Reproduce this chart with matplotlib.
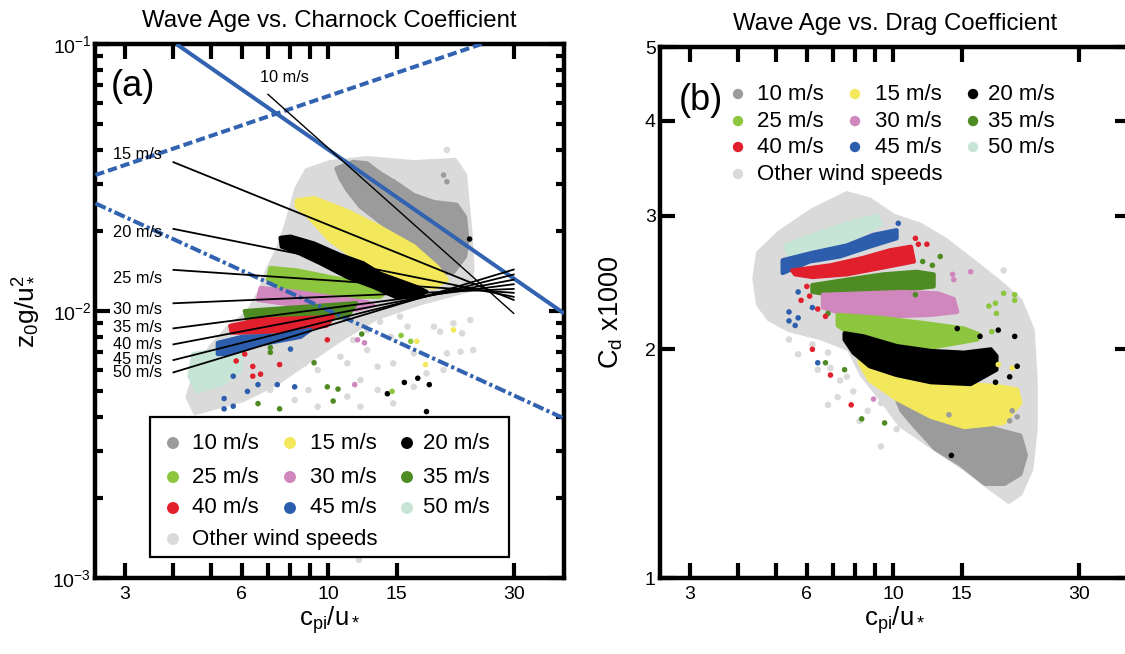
import matplotlib
matplotlib.use("Agg")
import matplotlib.pyplot as plt
from matplotlib.patches import Rectangle
from matplotlib.ticker import FixedLocator, FixedFormatter, NullLocator, NullFormatter, LogLocator

plt.rcParams["font.family"] = ["Liberation Sans", "DejaVu Sans"]
plt.rcParams["mathtext.fontset"] = "custom"
plt.rcParams["mathtext.rm"] = "Liberation Sans"
plt.rcParams["mathtext.it"] = "Liberation Sans"
plt.rcParams["mathtext.bf"] = "Liberation Sans:bold"

# ---------------------------------------------------------------- data
SPEEDS = [10, 15, 20, 25, 30, 35, 40, 45, 50]
SPEED_LABELS = ["10 m/s", "15 m/s", "20 m/s", "25 m/s", "30 m/s",
                "35 m/s", "40 m/s", "45 m/s", "50 m/s"]
OTHER_LABEL = "Other wind speeds"

X_TICKS = [3, 4, 5, 6, 7, 8, 9, 10, 15, 30]
X_TICK_LABELS = ["3", "", "", "6", "", "", "", "10", "15", "30"]
XLIM = (2.52, 40.4)
A_YLIM = (1e-3, 1e-1)
A_YTICK_LABELS = [r"$\mathregular{10^{-3}}$", r"$\mathregular{10^{-2}}$", r"$\mathregular{10^{-1}}$"]
B_YLIM = (1, 5)
B_YTICKS = [1, 2, 3, 4, 5]
B_YTICK_LABELS = ["1", "2", "3", "4", "5"]

# (a) Charnock coefficient: outlines of the dense point clouds
A_OTHER_X = [8.8, 10.1, 12.6, 16.6, 21.2, 22.5, 22.8, 23.2, 23.5, 23.2, 17.3, 13.3, 10.9, 9.0,
             7.4, 6.05, 4.55, 4.35, 4.55, 4.98, 5.61, 6.2, 6.7, 7.0, 7.4, 7.8, 8.3]
A_OTHER_Y = [0.0337, 0.0361, 0.0374, 0.0361, 0.0368, 0.0323, 0.0260, 0.0201, 0.0146, 0.0120,
             0.0107, 0.0094, 0.0079, 0.00655, 0.00537, 0.00464, 0.00415, 0.00476, 0.00586,
             0.00733, 0.00886, 0.00983, 0.0120, 0.0144, 0.0169, 0.0210, 0.0289]
A10_X = [10.5, 11.6, 12.6, 13.6, 15.0, 16.6, 18.7, 21.4, 22.5, 22.8, 22.5, 21.0, 19.4, 17.9,
         16.6, 15.3, 14.2, 13.1, 12.1, 11.2, 10.75]
A10_Y = [0.0342, 0.0362, 0.0357, 0.0328, 0.0301, 0.0272, 0.0256, 0.0250, 0.0225, 0.0184,
         0.0160, 0.0140, 0.0138, 0.0146, 0.0164, 0.0184, 0.0205, 0.0225, 0.0246, 0.0284, 0.0314]
A15_X = [8.3, 9.2, 11.2, 13.6, 16.6, 19.1, 20.2, 18.7, 15.0, 12.3, 10.1, 8.9, 8.3]
A15_Y = [0.0260, 0.0265, 0.0237, 0.0206, 0.0175, 0.0146, 0.0131, 0.0122, 0.0131, 0.0151,
         0.0184, 0.0226, 0.0246]
A20_X = [7.54, 8.0, 9.2, 10.75, 12.3, 13.6, 15.0, 16.9, 17.9, 16.6, 14.9, 13.1, 11.2, 9.55, 8.4, 7.6]
A20_Y = [0.0188, 0.0190, 0.0179, 0.0162, 0.0151, 0.0138, 0.0131, 0.0123, 0.0118, 0.0113,
         0.0113, 0.0123, 0.0134, 0.0151, 0.0165, 0.0174]
A25_X = [7.1, 8.3, 10.1, 12.3, 14.2, 13.6, 11.2, 9.2, 7.54, 7.0]
A25_Y = [0.0145, 0.0142, 0.0134, 0.0127, 0.0120, 0.0113, 0.0113, 0.0118, 0.0123, 0.0131]
A30_X = [6.7, 8.3, 10.1, 12.6, 13.1, 11.8, 9.2, 7.54, 6.6]
A30_Y = [0.0122, 0.0118, 0.0113, 0.0108, 0.0105, 0.0101, 0.0104, 0.0107, 0.0110]
A35_X = [6.1, 8.1, 11.8, 11.2, 8.1, 6.2]
A35_Y = [0.0100, 0.0103, 0.0107, 0.0095, 0.0091, 0.0093]
A40_X = [5.6, 6.7, 8.5, 10.3, 9.9, 8.1, 6.7, 5.65]
A40_Y = [0.0088, 0.0093, 0.0094, 0.0095, 0.0088, 0.0085, 0.0083, 0.0083]
A45_X = [5.2, 6.0, 7.35, 9.0, 8.5, 6.7, 5.5, 5.2]
A45_Y = [0.0076, 0.0080, 0.0081, 0.0085, 0.0080, 0.0075, 0.0069, 0.0069]
A50_X = [4.5, 5.1, 6.0, 5.95, 5.3, 4.6, 4.4]
A50_Y = [0.0069, 0.0071, 0.0071, 0.0060, 0.0053, 0.0050, 0.0057]

# (a) isolated points
A_DOTS_OTHER_X = [13.6, 15.3, 14.5, 16.0, 18.7, 19.4, 21.0, 22.1, 23.2, 20.2, 21.9, 23.6, 12.6,
                  13.4, 14.7, 16.6, 17.9, 19.8, 16.6, 14.7, 13.4, 12.1, 11.2, 10.75, 11.6, 12.6,
                  9.4, 8.7, 8.9, 8.2, 7.1, 9.4, 12.1, 11.2, 20.2, 20.5, 19.9, 12.0]
A_DOTS_OTHER_Y = [0.00912, 0.00953, 0.00801, 0.00874, 0.00874, 0.00837, 0.0090, 0.00825,
                  0.00925, 0.00694, 0.00704, 0.00714, 0.00714, 0.00619, 0.00637, 0.00694,
                  0.00584, 0.00601, 0.0052, 0.00451, 0.00506, 0.00551, 0.00637, 0.00674,
                  0.00779, 0.00849, 0.00601, 0.00637, 0.00506, 0.00464, 0.00506, 0.00438,
                  0.00438, 0.00478, 0.0401, 0.0323, 0.0303, 0.00117]
A_DOTS_10_X = [19.8, 20.2, 14.7]
A_DOTS_10_Y = [0.0323, 0.0305, 0.0305]
A_DOTS_15_X = [21.0, 16.9, 17.8]
A_DOTS_15_Y = [0.0085, 0.0077, 0.0063]
A_DOTS_20_X = [14.2, 15.7, 17.0, 18.2, 17.9, 23.1]
A_DOTS_20_Y = [0.0049, 0.0054, 0.0056, 0.0053, 0.0042, 0.0186]
A_DOTS_25_X = [15.4, 16.3, 14.6]
A_DOTS_25_Y = [0.0081, 0.0077, 0.0050]
A_DOTS_30_X = [11.9, 12.4, 11.7]
A_DOTS_30_Y = [0.0078, 0.0076, 0.0053]
A_DOTS_35_X = [9.2, 9.95, 10.6, 10.3, 6.6, 7.5, 12.2, 7.1, 7.1]
A_DOTS_35_Y = [0.0064, 0.0052, 0.0051, 0.0046, 0.0045, 0.0043, 0.0082, 0.0073, 0.0070]
A_DOTS_40_X = [9.95, 5.8, 6.4, 6.4, 6.7, 7.5, 6.1]
A_DOTS_40_Y = [0.0078, 0.0065, 0.0062, 0.0057, 0.0058, 0.0063, 0.0069]
A_DOTS_45_X = [8.0, 5.7, 6.6, 7.4, 8.2, 6.2, 5.4, 5.7, 5.4]
A_DOTS_45_Y = [0.0072, 0.0057, 0.0053, 0.0053, 0.0052, 0.0050, 0.0047, 0.0044, 0.0043]

# (a) per-speed fitted lines, from x0 to x1
FIT_X0 = [7.0, 4.0, 4.0, 4.0, 4.0, 4.0, 4.0, 4.0, 4.0]
FIT_X1 = [30.0, 30.0, 30.0, 30.0, 30.0, 30.0, 30.0, 30.0, 30.0]
FIT_Y0 = [0.0648, 0.0361, 0.0203, 0.01426, 0.01069, 0.00861, 0.0075, 0.00655, 0.00589]
FIT_Y1 = [0.0098, 0.0110, 0.0113, 0.0117, 0.0121, 0.0126, 0.0131, 0.0137, 0.0143]
FIT_LABEL_X = [6.66, 2.8, 2.8, 2.8, 2.8, 2.8, 2.8, 2.8, 2.8]
FIT_LABEL_Y = [0.0752, 0.0384, 0.0196, 0.01318, 0.01009, 0.00864, 0.00746, 0.00661, 0.00586]

# (a) reference relations
REF_SOLID_X = [4.07, 40.4]
REF_SOLID_Y = [0.1, 0.0098]
REF_DASHED_X = [2.52, 24.8]
REF_DASHED_Y = [0.0323, 0.1]
REF_DASHDOT_X = [2.52, 40.4]
REF_DASHDOT_Y = [0.0253, 0.00396]

# (b) drag coefficient: outlines of the dense point clouds
B_OTHER_X = [7.6, 8.7, 10.0, 11.7, 13.6, 16.1, 18.8, 21.2, 22.8, 23.2, 23.2, 22.6, 21.2, 19.8,
             17.8, 15.3, 12.5, 10.4, 9.3, 8.3, 7.7, 6.5, 5.4, 4.8, 4.5, 4.4, 4.5, 5.1, 6.2]
B_OTHER_Y = [3.21, 3.15, 3.0, 2.92, 2.79, 2.61, 2.45, 2.32, 2.12, 1.82, 1.57, 1.39, 1.29, 1.26,
             1.31, 1.39, 1.49, 1.59, 1.72, 1.85, 2.0, 2.07, 2.12, 2.19, 2.29, 2.48, 2.68, 2.85, 3.05]
B50_X = [5.3, 6.5, 7.8, 9.1, 9.3, 7.8, 6.5, 5.4]
B50_Y = [2.74, 2.85, 2.94, 3.0, 2.92, 2.79, 2.70, 2.64]
B45_X = [5.2, 6.2, 7.6, 8.9, 10.2, 10.2, 8.7, 7.3, 6.1, 5.2]
B45_Y = [2.62, 2.68, 2.74, 2.83, 2.87, 2.80, 2.73, 2.65, 2.61, 2.52]
B40_X = [5.5, 6.9, 8.4, 9.8, 11.1, 11.3, 9.3, 7.6, 6.2, 5.6]
B40_Y = [2.54, 2.58, 2.64, 2.70, 2.73, 2.61, 2.56, 2.51, 2.49, 2.51]
B35_X = [6.2, 7.6, 9.4, 11.5, 12.7, 12.7, 10.2, 8.4, 6.9, 6.2]
B35_Y = [2.43, 2.47, 2.51, 2.53, 2.51, 2.42, 2.39, 2.37, 2.36, 2.38]
B30_X = [6.6, 8.4, 10.6, 13.0, 14.3, 14.6, 12.5, 9.8, 7.6, 6.6]
B30_Y = [2.36, 2.37, 2.38, 2.37, 2.33, 2.24, 2.22, 2.21, 2.22, 2.27]
B25_X = [7.2, 9.3, 12.5, 15.2, 16.7, 16.4, 12.5, 9.3, 7.8, 7.2]
B25_Y = [2.22, 2.20, 2.16, 2.13, 2.09, 2.06, 2.01, 2.03, 2.09, 2.15]
B20_X = [7.5, 8.4, 10.2, 12.5, 15.2, 17.8, 18.4, 18.4, 15.8, 12.5, 10.2, 8.7, 7.9, 7.5]
B20_Y = [2.10, 2.08, 2.02, 1.99, 1.98, 2.0, 1.96, 1.88, 1.80, 1.81, 1.85, 1.90, 1.98, 2.06]
B15_X = [8.2, 10.2, 12.5, 15.2, 18.4, 20.8, 21.2, 19.2, 15.2, 12.5, 10.2, 8.7, 8.2]
B15_Y = [1.96, 1.88, 1.82, 1.80, 1.79, 1.77, 1.70, 1.60, 1.58, 1.63, 1.72, 1.82, 1.92]
B10_X = [10.2, 12.5, 15.2, 18.4, 21.2, 21.9, 21.2, 19.3, 17.2, 14.9, 12.8, 11.4, 10.5]
B10_Y = [1.72, 1.68, 1.61, 1.57, 1.54, 1.45, 1.37, 1.33, 1.33, 1.41, 1.48, 1.58, 1.66]

# (b) isolated points
B_DOTS_OTHER_X = [5.4, 6.0, 5.7, 6.2, 6.8, 6.9, 7.3, 7.2, 6.8, 7.9, 8.6, 9.3, 10.1, 10.2, 9.3,
                  8.2, 7.6, 6.4, 13.2, 15.2, 19.2, 20.8, 20.0, 17.8]
B_DOTS_OTHER_Y = [2.06, 2.10, 1.97, 2.03, 1.98, 1.89, 1.82, 1.73, 1.69, 1.76, 1.66, 1.70, 1.64,
                  1.57, 1.49, 1.61, 1.84, 1.88, 2.79, 2.62, 2.54, 2.28, 2.19, 2.19]
B_DOTS_10_X = [13.9, 20.2, 20.8, 19.9]
B_DOTS_10_Y = [1.64, 1.66, 1.63, 1.61]
B_DOTS_15_X = [18.6, 20.2]
B_DOTS_15_Y = [1.91, 1.89]
B_DOTS_20_X = [14.6, 16.7, 18.6, 20.5, 20.8, 19.9, 18.3, 14.1]
B_DOTS_20_Y = [2.13, 2.08, 2.12, 2.08, 1.90, 1.84, 1.81, 1.45]
B_DOTS_25_X = [19.2, 20.5, 20.5, 17.6, 18.3, 18.4, 17.9]
B_DOTS_25_Y = [2.37, 2.36, 2.32, 2.28, 2.30, 2.23, 2.11]
B_DOTS_30_X = [15.8, 14.2, 14.3, 8.9]
B_DOTS_30_Y = [2.53, 2.51, 2.47, 1.72]
B_DOTS_35_X = [11.9, 13.2, 12.6, 11.4, 6.8, 6.7, 7.5, 8.3, 9.5]
B_DOTS_35_Y = [2.61, 2.65, 2.58, 2.36, 2.23, 1.92, 1.88, 1.62, 1.60]
B_DOTS_40_X = [11.4, 11.6, 12.2, 6.0, 6.1, 5.8, 6.4, 6.7, 6.2, 6.9, 7.8]
B_DOTS_40_Y = [2.80, 2.75, 2.75, 2.42, 2.35, 2.32, 2.26, 2.21, 2.0, 1.85, 1.69]
B_DOTS_45_X = [10.3, 5.7, 5.4, 5.7, 5.6, 6.2, 5.4, 6.4]
B_DOTS_45_Y = [2.93, 2.38, 2.24, 2.20, 2.15, 2.27, 2.18, 1.92]

# ---------------------------------------------------------------- style
COLORS = {10: "#9b9b9b", 15: "#f3e85c", 20: "#000000", 25: "#8cc63e", 30: "#cf87bd",
          35: "#4e8b22", 40: "#e11f2d", 45: "#2d5eae", 50: "#c7e5d6", "other": "#dadada"}
BLUE = "#3263b0"
TICK_FS = 14
LABEL_FS = 19
TITLE_FS = 17.3
LEGEND_FS = 16


def style_axes(ax):
    ax.set_xscale("log")
    ax.set_xlim(*XLIM)
    ax.xaxis.set_major_locator(FixedLocator(X_TICKS))
    ax.xaxis.set_major_formatter(FixedFormatter(X_TICK_LABELS))
    ax.xaxis.set_minor_locator(NullLocator())
    ax.tick_params(which="major", direction="in", length=10.5, width=3, top=True, right=True,
                   labelsize=TICK_FS)
    ax.tick_params(which="minor", direction="in", length=6, width=3, top=True, right=True)
    ax.tick_params(axis="x", which="both", pad=6)
    ax.tick_params(axis="y", which="both", pad=3)
    for sp in ax.spines.values():
        sp.set_linewidth(3.2)
    ax.set_xlabel(r"$\mathregular{c_{pi}/u_*}$", fontsize=LABEL_FS - 0.5, labelpad=1)


def cloud(ax, xs, ys, color, z):
    ax.fill(xs, ys, facecolor=color, edgecolor=color, lw=3, joinstyle="round", zorder=z)


def dots(ax, xs, ys, color, z, s=16):
    ax.scatter(xs, ys, s=s, color=color, edgecolors="none", zorder=z)


def legend_entries(ax, marker_x, text_x, rows_y, msize):
    grid = [[10, 15, 20], [25, 30, 35], [40, 45, 50]]
    for r, row in enumerate(grid):
        for c, spd in enumerate(row):
            ax.scatter([marker_x[c]], [rows_y[r]], s=msize, color=COLORS[spd],
                       edgecolors="none", transform=ax.transAxes, zorder=8, clip_on=False)
            ax.text(text_x[c], rows_y[r], SPEED_LABELS[SPEEDS.index(spd)],
                    transform=ax.transAxes, fontsize=LEGEND_FS, va="center", ha="left", zorder=8)
    ax.scatter([marker_x[0]], [rows_y[3]], s=msize, color=COLORS["other"], edgecolors="none",
               transform=ax.transAxes, zorder=8, clip_on=False)
    ax.text(text_x[0], rows_y[3], OTHER_LABEL, transform=ax.transAxes, fontsize=LEGEND_FS,
            va="center", ha="left", zorder=8)


fig = plt.figure(figsize=(11.25, 6.54), dpi=100)
ax_a = fig.add_axes([0.0848, 0.1162, 0.4165, 0.8165])
ax_b = fig.add_axes([0.5867, 0.1162, 0.4173, 0.8119])

# ---------------------------------------------------------------- panel (a)
ax = ax_a
style_axes(ax)
ax.set_yscale("log")
ax.set_ylim(*A_YLIM)
ax.yaxis.set_major_locator(FixedLocator([1e-3, 1e-2, 1e-1]))
ax.yaxis.set_major_formatter(FixedFormatter(A_YTICK_LABELS))
ax.yaxis.set_minor_locator(LogLocator(base=10, subs=[2, 3, 4, 5, 6, 7, 8, 9]))
ax.yaxis.set_minor_formatter(NullFormatter())
ax.set_ylabel(r"$\mathregular{z_0g/u_*^2}$", fontsize=LABEL_FS, labelpad=8)
ax.set_title("Wave Age vs. Charnock Coefficient", fontsize=TITLE_FS, pad=12)

cloud(ax, A_OTHER_X, A_OTHER_Y, COLORS["other"], 1)
dots(ax, A_DOTS_OTHER_X, A_DOTS_OTHER_Y, COLORS["other"], 1.5, s=22)
a_bands = [(50, A50_X, A50_Y), (10, A10_X, A10_Y), (15, A15_X, A15_Y), (25, A25_X, A25_Y),
           (30, A30_X, A30_Y), (35, A35_X, A35_Y), (40, A40_X, A40_Y), (45, A45_X, A45_Y),
           (20, A20_X, A20_Y)]
for i, (spd, xs, ys) in enumerate(a_bands):
    cloud(ax, xs, ys, COLORS[spd], 2 + 0.1 * i)
a_dots = [(10, A_DOTS_10_X, A_DOTS_10_Y), (15, A_DOTS_15_X, A_DOTS_15_Y),
          (20, A_DOTS_20_X, A_DOTS_20_Y), (25, A_DOTS_25_X, A_DOTS_25_Y),
          (30, A_DOTS_30_X, A_DOTS_30_Y), (35, A_DOTS_35_X, A_DOTS_35_Y),
          (40, A_DOTS_40_X, A_DOTS_40_Y), (45, A_DOTS_45_X, A_DOTS_45_Y)]
for spd, xs, ys in a_dots:
    dots(ax, xs, ys, COLORS[spd], 3)

ax.plot(REF_SOLID_X, REF_SOLID_Y, color=BLUE, lw=2.9, zorder=4, solid_capstyle="butt")
ax.plot(REF_DASHED_X, REF_DASHED_Y, color=BLUE, lw=2.9, zorder=4, dashes=(2.3, 1.0))
ax.plot(REF_DASHDOT_X, REF_DASHDOT_Y, color=BLUE, lw=2.9, zorder=4,
        dashes=(2.8, 0.8, 0.8, 0.8))
for k in range(len(SPEEDS)):
    ax.plot([FIT_X0[k], FIT_X1[k]], [FIT_Y0[k], FIT_Y1[k]], color="black",
            lw=1.0 if k == 0 else 1.3, zorder=4.5)
    ax.text(FIT_LABEL_X[k], FIT_LABEL_Y[k], SPEED_LABELS[k], fontsize=11.8, va="center",
            ha="left", zorder=4.6)

ax.text(0.033, 0.921, "(a)", transform=ax.transAxes, fontsize=26, va="center", ha="left")

ax.add_patch(Rectangle((0.116, 0.0393), 0.766, 0.262, transform=ax.transAxes,
                       facecolor="white", edgecolor="black", lw=1.6, zorder=7))
legend_entries(ax, [0.1656, 0.4153, 0.6650], [0.2062, 0.4580, 0.6991],
               [0.2528, 0.1891, 0.1311, 0.0730], 74)

# ---------------------------------------------------------------- panel (b)
ax = ax_b
style_axes(ax)
ax.set_yscale("log")
ax.set_ylim(*B_YLIM)
ax.yaxis.set_major_locator(FixedLocator(B_YTICKS))
ax.yaxis.set_major_formatter(FixedFormatter(B_YTICK_LABELS))
ax.yaxis.set_minor_locator(NullLocator())
ax.set_ylabel(r"$\mathregular{C_d}$ x1000", fontsize=LABEL_FS + 0.5, labelpad=14)
ax.set_title("Wave Age vs. Drag Coefficient", fontsize=TITLE_FS, pad=12)

cloud(ax, B_OTHER_X, B_OTHER_Y, COLORS["other"], 1)
dots(ax, B_DOTS_OTHER_X, B_DOTS_OTHER_Y, COLORS["other"], 1.5, s=22)
b_bands = [(50, B50_X, B50_Y), (45, B45_X, B45_Y), (40, B40_X, B40_Y), (35, B35_X, B35_Y),
           (30, B30_X, B30_Y), (25, B25_X, B25_Y), (10, B10_X, B10_Y), (15, B15_X, B15_Y),
           (20, B20_X, B20_Y)]
for i, (spd, xs, ys) in enumerate(b_bands):
    cloud(ax, xs, ys, COLORS[spd], 2 + 0.1 * i)
b_dots = [(10, B_DOTS_10_X, B_DOTS_10_Y), (15, B_DOTS_15_X, B_DOTS_15_Y),
          (20, B_DOTS_20_X, B_DOTS_20_Y), (25, B_DOTS_25_X, B_DOTS_25_Y),
          (30, B_DOTS_30_X, B_DOTS_30_Y), (35, B_DOTS_35_X, B_DOTS_35_Y),
          (40, B_DOTS_40_X, B_DOTS_40_Y), (45, B_DOTS_45_X, B_DOTS_45_Y)]
for spd, xs, ys in b_dots:
    dots(ax, xs, ys, COLORS[spd], 3)

ax.text(0.040, 0.900, "(b)", transform=ax.transAxes, fontsize=26, va="center", ha="left")
legend_entries(ax, [0.1661, 0.4153, 0.6667], [0.2066, 0.4579, 0.6986],
               [0.9115, 0.8606, 0.8117, 0.7608], 56)

fig.savefig("out.png", dpi=100)
